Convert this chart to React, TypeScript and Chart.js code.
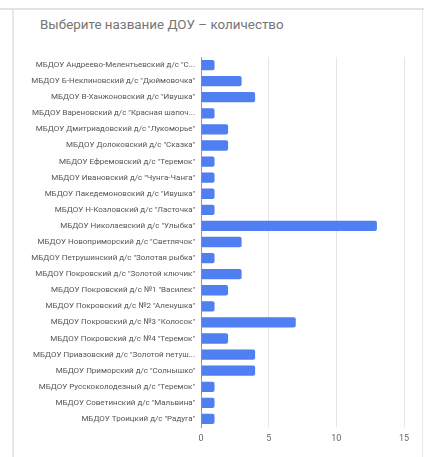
import React, { useEffect, useRef } from "react";
import { Chart, registerables } from "chart.js";

Chart.register(...registerables);

const title = "Выберите название ДОУ – количество";

const categories = [
  'МБДОУ Андреево-Мелентьевский д/с "С...',
  'МБДОУ Б-Неклиновский д/с "Дюймовочка"',
  'МБДОУ В-Ханжоновский д/с "Ивушка"',
  'МБДОУ Вареновский д/с "Красная шапоч...',
  'МБДОУ Дмитриадовский д/с "Лукоморье"',
  'МБДОУ Долоковский д/с "Сказка"',
  'МБДОУ Ефремовский д/с "Теремок"',
  'МБДОУ Ивановский д/с "Чунга-Чанга"',
  'МБДОУ Лакедемоновский д/с "Ивушка"',
  'МБДОУ Н-Козловский д/с "Ласточка"',
  'МБДОУ Николаевский д/с "Улыбка"',
  'МБДОУ Новоприморский д/с "Светлячок"',
  'МБДОУ Петрушинский д/с "Золотая рыбка"',
  'МБДОУ Покровский д/с "Золотой ключик"',
  'МБДОУ Покровский д/с №1 "Василек"',
  'МБДОУ Покровский д/с №2 "Аленушка"',
  'МБДОУ Покровский д/с №3 "Колосок"',
  'МБДОУ Покровский д/с №4 "Теремок"',
  'МБДОУ Приазовский д/с "Золотой петуш...',
  'МБДОУ Приморский д/с "Солнышко"',
  'МБДОУ Русскоколодезный д/с "Теремок"',
  'МБДОУ Советинский д/с "Мальвина"',
  'МБДОУ Троицкий д/с "Радуга"',
];

const counts = [1, 3, 4, 1, 2, 2, 1, 1, 1, 1, 13, 3, 1, 3, 2, 1, 7, 2, 4, 4, 1, 1, 1];

const xTicks = [0, 5, 10, 15];

export default function App() {
  const ref = useRef<HTMLCanvasElement>(null);

  useEffect(() => {
    if (!ref.current) return;
    const chart = new Chart(ref.current, {
      type: "bar",
      data: {
        labels: categories,
        datasets: [
          {
            data: counts,
            backgroundColor: "#4f7ff0",
            borderColor: "#4f7ff0",
            borderWidth: 0,
            borderRadius: 2,
            barPercentage: 0.64,
            categoryPercentage: 1,
          },
        ],
      },
      options: {
        indexAxis: "y",
        animation: false,
        responsive: false,
        maintainAspectRatio: false,
        layout: { padding: { top: 57, right: 20, left: 0, bottom: 10 } },
        plugins: {
          legend: { display: false },
          tooltip: { enabled: false },
          title: { display: false },
        },
        scales: {
          x: {
            min: 0,
            max: 15,
            afterBuildTicks: (scale: any) => {
              scale.ticks = xTicks.map((v) => ({ value: v }));
            },
            afterFit: (scale: any) => {
              scale.height = 20;
            },
            grid: {
              color: (ctx: any) => (ctx.tick && ctx.tick.value === 0 ? "rgba(0,0,0,0)" : "#e6e6e6"),
              drawTicks: false,
              lineWidth: 1,
            },
            border: { display: false },
            ticks: {
              color: "#666",
              font: { family: "Roboto, Arial, sans-serif", size: 9 },
              padding: 6,
            },
          },
          y: {
            afterFit: (scale: any) => {
              scale.width = 201;
            },
            grid: { display: false, drawTicks: false },
            border: { display: true, color: "#999", width: 1 },
            ticks: {
              color: "#555",
              font: { family: "Roboto, Arial, sans-serif", size: 8 },
              padding: 6,
              autoSkip: false,
            },
          },
        },
      },
    });
    return () => chart.destroy();
  }, []);

  return (
    <div
      style={{
        position: "fixed",
        left: 0,
        top: 0,
        width: 424,
        height: 457,
        background: "#fff",
        overflow: "hidden",
      }}
    >
      <div
        style={{
          position: "absolute",
          left: 0,
          top: 8,
          width: 424,
          height: 2,
          background: "#e2e2e2",
        }}
      />
      <div
        style={{
          position: "absolute",
          left: 12,
          top: 10,
          width: 2,
          height: 447,
          background: "#e8e8e8",
        }}
      />
      <div
        style={{
          position: "absolute",
          left: 422,
          top: 10,
          width: 1,
          height: 447,
          background: "#e8e8e8",
        }}
      />
      <div
        style={{
          position: "absolute",
          left: 40,
          top: 17,
          fontFamily: "Roboto, Arial, sans-serif",
          fontSize: 13.4,
          color: "#757575",
          whiteSpace: "nowrap",
        }}
      >
        {title}
      </div>
      <canvas
        ref={ref}
        width={424}
        height={457}
        style={{ position: "absolute", left: 0, top: 0, width: 424, height: 457 }}
      />
    </div>
  );
}
